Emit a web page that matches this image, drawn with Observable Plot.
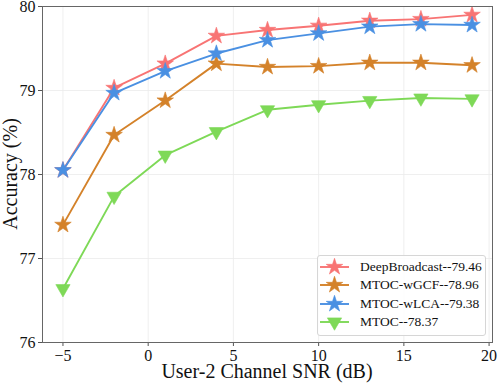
<!DOCTYPE html>
<html><head><meta charset="utf-8">
<script src="https://cdn.jsdelivr.net/npm/d3@7"></script>
<script src="https://cdn.jsdelivr.net/npm/@observablehq/plot@0.6"></script>
<style>
body{margin:0;background:#fff;}
#wrap{position:relative;width:499px;height:383px;font-family:"Liberation Serif","Times New Roman",serif;}
#legend{position:absolute;left:317px;top:255px;width:169px;height:81px;border:1px solid #d6d6d6;border-radius:3px;background:rgba(255,255,255,0.85);box-sizing:border-box;font-size:13.5px;color:#111;font-family:"Liberation Serif","Times New Roman",serif;}
#legend .row{position:absolute;left:2px;height:18px;display:flex;align-items:center;white-space:nowrap;}
#legend svg{margin-right:11px;flex:none;}
</style></head>
<body><div id="wrap"><div id="legend"></div></div>
<script>
const snr = [-5, -2, 1, 4, 7, 10, 13, 16, 19];
const deepBroadcast = [78.05, 79.03, 79.32, 79.65, 79.72, 79.77, 79.83, 79.85, 79.90];
const mtocWGCF = [77.40, 78.47, 78.88, 79.32, 79.28, 79.29, 79.33, 79.33, 79.30];
const mtocWLCA = [78.05, 78.97, 79.23, 79.44, 79.60, 79.68, 79.76, 79.79, 79.78];
const mtoc = [76.64, 77.74, 78.23, 78.51, 78.77, 78.83, 78.88, 78.91, 78.90];
const seriesNames = ["DeepBroadcast--79.46", "MTOC-wGCF--78.96", "MTOC-wLCA--79.38", "MTOC--78.37"];
const seriesValues = [deepBroadcast, mtocWGCF, mtocWLCA, mtoc];
const colors = ["#f87474", "#d4822a", "#4a90e2", "#7ed957"];
const xTicks = [-5, 0, 5, 10, 15, 20];
const yTicks = [76, 77, 78, 79, 80];

const triDown = {draw(ctx, size){const s=Math.sqrt(size*4/Math.sqrt(3));const h=s*Math.sqrt(3)/2;ctx.moveTo(0,h*2/3);ctx.lineTo(s/2,-h/3);ctx.lineTo(-s/2,-h/3);ctx.closePath();}};
const symbols = [d3.symbolStar, d3.symbolStar, d3.symbolStar, triDown];
const radii = [5.2, 5.2, 5.2, 5.3];

const data = [];
seriesNames.forEach((name,i)=>snr.forEach((x,j)=>data.push({series:name, idx:i, x, y:seriesValues[i][j]})));

const marks = [
  Plot.gridX(xTicks, {stroke:"#ebebeb", strokeOpacity:1, strokeWidth:0.8}),
  Plot.gridY(yTicks, {stroke:"#ebebeb", strokeOpacity:1, strokeWidth:0.8}),
];
seriesNames.forEach((name,i)=>{
  const d = data.filter(e=>e.idx===i);
  marks.push(Plot.line(d, {x:"x", y:"y", stroke:colors[i], strokeWidth:1.9}));
  marks.push(Plot.dot(d, {x:"x", y:"y", fill:colors[i], stroke:colors[i], strokeWidth:0.6, symbol:()=>symbols[i], r: radii[i]}));
});
marks.push(Plot.axisX(xTicks, {tickSize:4, fontSize:16, tickPadding:3, label:null, stroke:"#555", tickFormat:d3.format("d")}));
marks.push(Plot.axisY(yTicks, {tickSize:4, fontSize:16, tickPadding:3, label:null, stroke:"#555", tickFormat:d3.format("d")}));
marks.push(Plot.frame({stroke:"#666", strokeWidth:1}));

const chart = Plot.plot({
  width:499, height:383,
  marginLeft:42, marginRight:7, marginTop:6, marginBottom:41,
  style:{fontFamily:'"Liberation Serif","Times New Roman",serif', color:"#111", background:"#fff", overflow:"visible"},
  x:{domain:[-6.2, 20.2]},
  y:{domain:[76, 80]},
  symbol:{type:"identity"},
  marks
});
const wrap = document.getElementById("wrap");
wrap.insertBefore(chart, wrap.firstChild);

const svg = d3.select(chart);
svg.append("text").attr("x", 267).attr("y", 378).attr("text-anchor","middle")
  .style("font-size","20px").attr("fill","#111").text("User-2 Channel SNR (dB)");
svg.append("text").attr("transform","translate(17,174) rotate(-90)").attr("text-anchor","middle")
  .style("font-size","20px").attr("fill","#111").text("Accuracy (%)");

const leg = document.getElementById("legend");
const spans = [];
seriesNames.forEach((name,i)=>{
  const row = document.createElement("div");
  row.className="row"; row.style.top = (1.5 + i*18.6) + "px";
  const s = d3.create("svg").attr("width",29).attr("height",18);
  s.append("line").attr("x1",0).attr("x2",29).attr("y1",9).attr("y2",9).attr("stroke",colors[i]).attr("stroke-width",1.9);
  const sz = Math.PI*radii[i]*radii[i];
  s.append("path").attr("transform","translate(14.5,9)").attr("d", d3.symbol(symbols[i], sz)()).attr("fill",colors[i]).attr("stroke",colors[i]).attr("stroke-width",0.6);
  row.appendChild(s.node());
  const t = document.createElement("span"); t.textContent = name; row.appendChild(t);
  spans.push(t);
  leg.appendChild(row);
});
// fit the longest legend entry to the reference's width (~121px)
const w0 = spans[0].getBoundingClientRect().width;
if (w0 > 0 && Math.abs(w0 - 121) > 3) {
  leg.style.fontSize = Math.min(16, Math.max(11, 13.5 * 121 / w0)) + "px";
}
</script></body></html>
